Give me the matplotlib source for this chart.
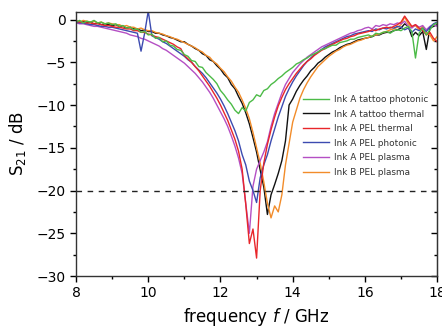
import numpy as np
import matplotlib.pyplot as plt
from matplotlib.ticker import MultipleLocator

# frequency grid (GHz)
freq = np.round(np.arange(8.0, 18.01, 0.1), 1)

# S21 (dB), one value per 0.1 GHz
ink_a_tattoo_photonic = [
    -0.3, -0.1, -0.4, -0.2, -0.3, -0.1, -0.4, -0.3, -0.5, -0.4,
    -0.6, -0.5, -0.8, -0.7, -1.0, -0.9, -1.2, -1.1, -1.5, -1.4,
    -1.8, -1.7, -2.2, -2.1, -2.6, -2.5, -3.0, -3.1, -3.5, -3.6,
    -4.1, -4.3, -4.8, -4.9, -5.5, -5.6, -6.2, -6.6, -7.0, -7.5,
    -8.3, -8.8, -9.4, -9.9, -10.6, -11.0, -10.3, -10.7, -9.7, -9.4,
    -8.8, -9.0, -8.3, -8.1, -7.6, -7.3, -6.9, -6.6, -6.2, -5.9,
    -5.6, -5.2, -5.0, -4.7, -4.5, -4.2, -4.0, -3.8, -3.5, -3.4,
    -3.2, -3.0, -3.0, -2.7, -2.6, -2.5, -2.3, -2.3, -2.1, -2.0,
    -1.9, -1.8, -2.0, -1.6, -1.7, -1.5, -1.4, -1.6, -1.3, -1.2,
    -1.3, -1.0, -0.8, -1.4, -4.5, -1.6, -1.0, -1.8, -1.2, -0.6,
    -0.4]
ink_a_tattoo_thermal = [
    -0.2, -0.3, -0.2, -0.4, -0.3, -0.5, -0.4, -0.6, -0.5, -0.6,
    -0.7, -0.6, -0.8, -0.8, -1.0, -0.9, -1.1, -1.1, -1.3, -1.2,
    -1.4, -1.4, -1.6, -1.6, -1.8, -1.9, -2.1, -2.2, -2.4, -2.6,
    -2.6, -2.9, -3.1, -3.4, -3.6, -4.0, -4.2, -4.7, -4.9, -5.4,
    -5.8, -6.4, -6.8, -7.6, -8.1, -9.0, -9.8, -10.9, -12.2, -13.8,
    -15.5, -17.6, -19.6, -22.8, -20.5, -19.3, -18.0, -16.5, -14.2, -10.0,
    -9.3, -8.4, -7.7, -7.1, -6.6, -6.0, -5.6, -5.1, -4.8, -4.4,
    -4.1, -3.8, -3.6, -3.3, -3.1, -2.9, -2.8, -2.6, -2.4, -2.3,
    -2.2, -2.1, -2.0, -1.8, -1.8, -1.6, -1.5, -1.5, -1.3, -1.2,
    -1.0, -0.5, -0.8, -2.0, -1.5, -1.9, -1.4, -3.5, -1.0, -0.8,
    -0.6]
ink_a_pel_thermal = [
    -0.2, -0.3, -0.3, -0.4, -0.4, -0.5, -0.5, -0.6, -0.7, -0.7,
    -0.8, -0.9, -0.9, -1.0, -1.1, -1.1, -1.3, -1.3, -1.5, -1.5,
    -1.7, -1.8, -2.0, -2.1, -2.3, -2.5, -2.7, -2.9, -3.2, -3.4,
    -4.2, -4.6, -5.0, -5.5, -6.0, -6.6, -7.2, -7.8, -8.5, -9.2,
    -10.0, -10.9, -11.8, -12.9, -14.0, -15.4, -17.5, -21.6, -26.2, -24.5,
    -27.9, -20.0, -16.8, -14.6, -12.9, -11.4, -10.1, -9.1, -8.2, -7.5,
    -6.9, -6.3, -5.8, -5.3, -4.9, -4.6, -4.2, -3.9, -3.6, -3.4,
    -3.1, -2.9, -2.7, -2.5, -2.3, -2.2, -2.0, -1.9, -1.7, -1.6,
    -1.5, -1.4, -1.2, -1.3, -1.1, -1.0, -0.9, -1.0, -0.8, -0.6,
    -0.3, 0.4, -0.2, -0.8, -0.6, -1.0, -1.3, -1.8, -1.5, -2.2,
    -2.6]
ink_a_pel_photonic = [
    -0.3, -0.4, -0.4, -0.5, -0.6, -0.6, -0.7, -0.8, -0.8, -0.9,
    -0.9, -1.0, -1.1, -1.2, -1.3, -1.4, -1.5, -1.6, -3.7, -1.6,
    1.0, -1.9, -2.1, -2.3, -2.6, -2.8, -3.1, -3.4, -3.7, -4.0,
    -4.3, -4.7, -5.0, -5.5, -5.9, -6.3, -6.8, -7.4, -8.0, -8.6,
    -9.3, -10.1, -11.0, -12.0, -13.0, -14.2, -15.8, -17.0, -18.9, -20.0,
    -21.4, -18.5, -17.0, -15.8, -14.2, -12.8, -11.4, -10.2, -9.0, -8.1,
    -7.3, -6.6, -6.0, -5.4, -4.9, -4.5, -4.1, -3.8, -3.5, -3.2,
    -3.0, -2.8, -2.6, -2.4, -2.2, -2.0, -1.9, -1.7, -1.6, -1.5,
    -1.4, -1.3, -1.4, -1.1, -1.2, -1.0, -1.1, -0.9, -1.0, -0.8,
    -0.9, -1.2, -1.0, -1.5, -1.1, -1.3, -1.0, -1.4, -0.9, -0.5,
    -0.3]
ink_a_pel_plasma = [
    -0.4, -0.5, -0.5, -0.6, -0.7, -0.8, -0.8, -0.9, -1.0, -1.1,
    -1.2, -1.3, -1.4, -1.5, -1.6, -1.8, -1.9, -2.0, -2.2, -2.3,
    -2.5, -2.7, -2.9, -3.1, -3.4, -3.6, -3.9, -4.2, -4.5, -4.8,
    -5.1, -5.5, -5.9, -6.3, -6.8, -7.3, -7.9, -8.5, -9.2, -10.0,
    -10.8, -11.6, -12.5, -13.6, -14.8, -16.2, -18.0, -21.5, -25.0, -19.5,
    -17.5, -16.5, -15.5, -14.3, -12.5, -11.0, -9.8, -8.6, -7.6, -6.9,
    -6.2, -5.7, -5.2, -4.8, -4.4, -4.1, -3.8, -3.5, -3.2, -3.0,
    -2.8, -2.6, -2.4, -2.2, -2.0, -1.8, -1.6, -1.5, -1.3, -1.2,
    -1.0, -0.9, -1.1, -0.7, -0.8, -0.6, -0.7, -0.5, -0.6, -0.4,
    -0.5, -0.2, -0.8, -1.0, -0.6, -0.9, -0.7, -1.2, -0.8, -0.6,
    -0.8]
ink_b_pel_plasma = [
    -0.1, -0.3, -0.1, -0.2, -0.3, -0.2, -0.4, -0.3, -0.5, -0.4,
    -0.5, -0.6, -0.6, -0.8, -0.7, -0.9, -0.9, -1.1, -1.0, -1.2,
    -1.3, -1.3, -1.5, -1.6, -1.7, -1.9, -2.0, -2.2, -2.3, -2.5,
    -2.7, -2.9, -3.1, -3.3, -3.6, -3.8, -4.2, -4.4, -4.9, -5.2,
    -5.7, -6.1, -6.7, -7.2, -7.9, -8.5, -9.4, -10.4, -11.6, -13.2,
    -15.0, -16.8, -19.0, -21.5, -23.2, -21.8, -22.5, -20.5, -17.0, -14.5,
    -12.0, -10.6, -9.2, -8.2, -7.4, -6.7, -6.1, -5.5, -5.1, -4.7,
    -4.3, -4.0, -3.7, -3.5, -3.2, -3.0, -2.9, -2.7, -2.5, -2.4,
    -2.2, -2.1, -1.9, -1.8, -1.7, -1.5, -1.4, -1.2, -1.1, -0.9,
    -0.6, 0.3, -0.5, -0.9, -0.7, -1.2, -0.8, -1.5, -1.8, -2.5,
    -2.0]

series = [
    ("Ink A tattoo photonic", ink_a_tattoo_photonic, "#4cbb47"),
    ("Ink A tattoo thermal", ink_a_tattoo_thermal, "#111111"),
    ("Ink A PEL thermal", ink_a_pel_thermal, "#e8262a"),
    ("Ink A PEL photonic", ink_a_pel_photonic, "#3c4bb0"),
    ("Ink A PEL plasma", ink_a_pel_plasma, "#b44fc4"),
    ("Ink B PEL plasma", ink_b_pel_plasma, "#f28c2a"),
]
draw_order = [1, 5, 4, 3, 2, 0]

fig = plt.figure(figsize=(4.42, 3.29), dpi=100)
ax = fig.add_axes([0.172, 0.161, 0.817, 0.803])

handles = {}
for i in draw_order:
    label, vals, col = series[i]
    line, = ax.plot(freq, vals, color=col, lw=1.0, label=label)
    handles[i] = line

ax.axhline(-20, color="#222222", lw=1.0, ls=(0, (4, 4)))

ax.set_xlim(8, 18)
ax.set_ylim(-30, 0.9)
ax.xaxis.set_major_locator(MultipleLocator(2))
ax.xaxis.set_minor_locator(MultipleLocator(1))
ax.yaxis.set_major_locator(MultipleLocator(5))
ax.yaxis.set_minor_locator(MultipleLocator(2.5))
ax.tick_params(axis="both", which="both", direction="out", labelsize=10,
               top=False, right=False)
ax.tick_params(which="major", length=4, width=1)
ax.tick_params(which="minor", length=2.5, width=1)

# right side ticks point inwards, no labels
sec = ax.secondary_yaxis("right")
sec.yaxis.set_major_locator(MultipleLocator(5))
sec.yaxis.set_minor_locator(MultipleLocator(2.5))
sec.tick_params(which="both", direction="in", labelright=False, width=1)
sec.tick_params(which="major", length=4)
sec.tick_params(which="minor", length=2.5)
sec.spines["right"].set_color("#333333")

ax.set_xlabel("frequency $\\mathit{f}$ / GHz", fontsize=12, labelpad=4)
ax.set_ylabel("S$_{21}$ / dB", fontsize=12, labelpad=6)
for s in ax.spines.values():
    s.set_color("#333333")
    s.set_linewidth(1.0)

leg = ax.legend(handles=[handles[i] for i in range(6)], loc="upper left",
                bbox_to_anchor=(0.628, 0.685), frameon=False, fontsize=6.4,
                handlelength=3.0, handletextpad=0.55, labelspacing=0.62,
                borderpad=0, borderaxespad=0)
for t in leg.get_texts():
    t.set_color("#333333")

fig.savefig("out.png", dpi=100)
